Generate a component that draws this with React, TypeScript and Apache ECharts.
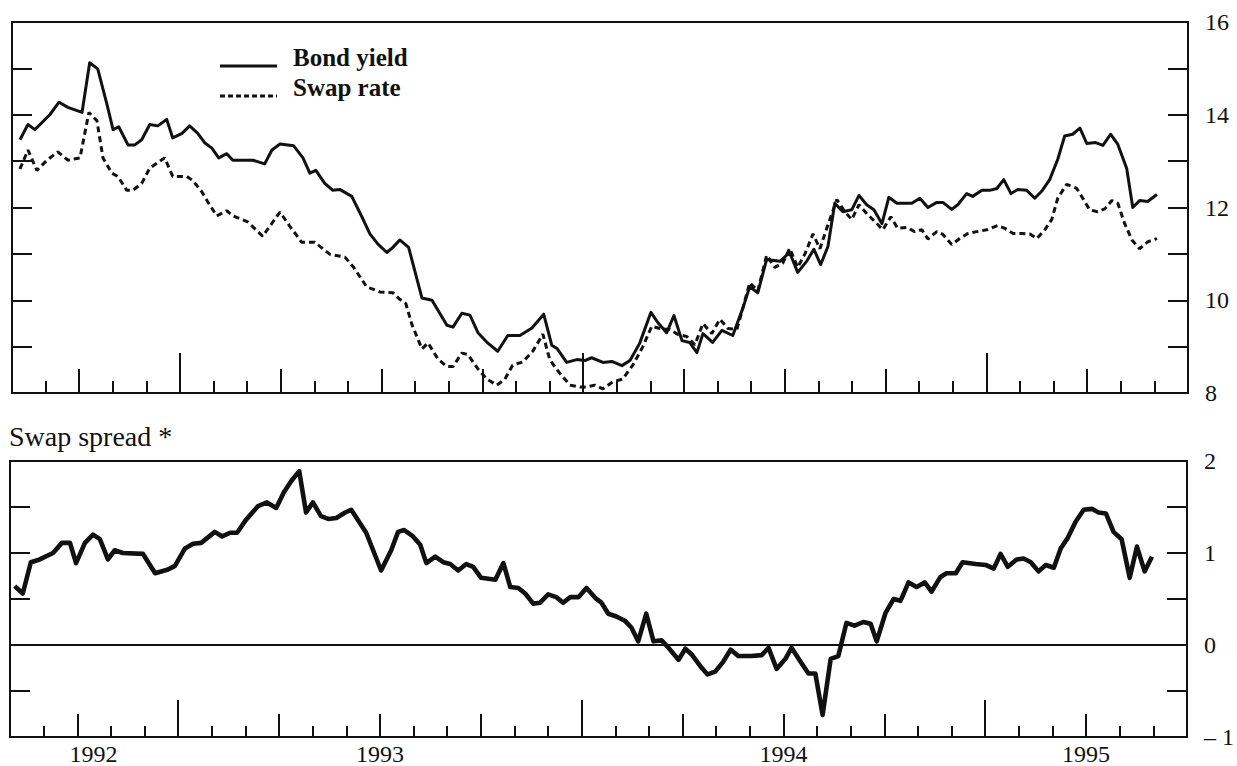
import React, { useEffect, useRef } from "react";
import * as echarts from "echarts";

// ---- data (decimal year, value) ----
const bondYield: [number, number][] = [
  [1992.603, 13.46], [1992.623, 13.79], [1992.64, 13.68], [1992.677, 14.0], [1992.7, 14.27], [1992.722, 14.16],
  [1992.757, 14.05], [1992.776, 15.12], [1992.796, 14.99], [1992.819, 14.22], [1992.834, 13.68], [1992.848, 13.74],
  [1992.871, 13.35], [1992.888, 13.35], [1992.905, 13.46], [1992.925, 13.79], [1992.945, 13.76], [1992.967, 13.9],
  [1992.982, 13.5], [1993.005, 13.6], [1993.024, 13.76], [1993.044, 13.6], [1993.062, 13.39], [1993.079, 13.28],
  [1993.096, 13.07], [1993.116, 13.16], [1993.131, 13.02], [1993.181, 13.02], [1993.21, 12.94], [1993.228, 13.24],
  [1993.248, 13.37], [1993.282, 13.33], [1993.305, 13.07], [1993.322, 12.74], [1993.337, 12.8], [1993.359, 12.52],
  [1993.379, 12.37], [1993.396, 12.39], [1993.426, 12.24], [1993.451, 11.8], [1993.471, 11.43], [1993.491, 11.21],
  [1993.513, 11.03], [1993.528, 11.14], [1993.545, 11.3], [1993.567, 11.14], [1993.6, 10.05], [1993.625, 10.0],
  [1993.662, 9.46], [1993.677, 9.42], [1993.699, 9.72], [1993.719, 9.68], [1993.739, 9.3], [1993.763, 9.08],
  [1993.788, 8.9], [1993.813, 9.24], [1993.843, 9.24], [1993.873, 9.4], [1993.902, 9.7], [1993.922, 9.03],
  [1993.935, 8.96], [1993.959, 8.66], [1993.984, 8.72], [1994.004, 8.7], [1994.021, 8.76], [1994.049, 8.66],
  [1994.071, 8.68], [1994.096, 8.59], [1994.116, 8.7], [1994.14, 9.07], [1994.168, 9.74], [1994.185, 9.52],
  [1994.207, 9.3], [1994.225, 9.67], [1994.245, 9.13], [1994.264, 9.09], [1994.282, 8.87], [1994.297, 9.28],
  [1994.321, 9.09], [1994.344, 9.35], [1994.371, 9.24], [1994.396, 9.83], [1994.413, 10.29], [1994.433, 10.16],
  [1994.455, 10.88], [1994.488, 10.84], [1994.512, 11.03], [1994.532, 10.6], [1994.555, 10.85], [1994.572, 11.1],
  [1994.589, 10.77], [1994.607, 11.16], [1994.624, 12.09], [1994.644, 11.91], [1994.666, 11.95], [1994.684, 12.26],
  [1994.703, 12.06], [1994.721, 11.95], [1994.741, 11.65], [1994.758, 12.22], [1994.778, 12.09], [1994.815, 12.09],
  [1994.835, 12.2], [1994.855, 12.0], [1994.877, 12.11], [1994.892, 12.11], [1994.914, 11.96], [1994.929, 12.06],
  [1994.951, 12.3], [1994.966, 12.24], [1994.989, 12.37], [1995.008, 12.37], [1995.026, 12.41], [1995.043, 12.6],
  [1995.061, 12.3], [1995.078, 12.39], [1995.1, 12.37], [1995.12, 12.2], [1995.137, 12.35], [1995.157, 12.6],
  [1995.177, 13.04], [1995.194, 13.54], [1995.214, 13.58], [1995.232, 13.71], [1995.249, 13.38], [1995.271, 13.4],
  [1995.289, 13.34], [1995.308, 13.58], [1995.326, 13.36], [1995.348, 12.84], [1995.363, 12.0], [1995.38, 12.15],
  [1995.4, 12.13], [1995.423, 12.28],
];

const swapRate: [number, number][] = [
  [1992.603, 12.83], [1992.623, 13.24], [1992.645, 12.8], [1992.67, 13.02], [1992.697, 13.2], [1992.722, 13.02],
  [1992.752, 13.07], [1992.774, 14.05], [1992.794, 13.87], [1992.809, 13.07], [1992.831, 12.74], [1992.846, 12.67],
  [1992.868, 12.37], [1992.883, 12.37], [1992.905, 12.52], [1992.925, 12.85], [1992.962, 13.07], [1992.982, 12.67],
  [1993.017, 12.67], [1993.032, 12.58], [1993.054, 12.34], [1993.069, 12.12], [1993.091, 11.82], [1993.116, 11.93],
  [1993.131, 11.82], [1993.168, 11.69], [1993.205, 11.38], [1993.223, 11.6], [1993.248, 11.9], [1993.272, 11.6],
  [1993.302, 11.25], [1993.334, 11.25], [1993.372, 10.99], [1993.409, 10.93], [1993.429, 10.73], [1993.463, 10.29],
  [1993.496, 10.18], [1993.528, 10.16], [1993.545, 10.02], [1993.56, 9.93], [1993.575, 9.48], [1993.6, 8.95],
  [1993.615, 9.08], [1993.64, 8.73], [1993.662, 8.57], [1993.677, 8.57], [1993.699, 8.86], [1993.714, 8.83],
  [1993.739, 8.52], [1993.761, 8.3], [1993.786, 8.17], [1993.806, 8.3], [1993.825, 8.6], [1993.85, 8.67],
  [1993.875, 8.9], [1993.9, 9.27], [1993.917, 8.72], [1993.935, 8.5], [1993.967, 8.17], [1993.992, 8.13],
  [1994.009, 8.13], [1994.029, 8.17], [1994.049, 8.09], [1994.073, 8.24], [1994.098, 8.3], [1994.123, 8.6],
  [1994.148, 9.0], [1994.17, 9.44], [1994.19, 9.39], [1994.215, 9.37], [1994.235, 9.26], [1994.257, 9.22],
  [1994.277, 9.04], [1994.297, 9.5], [1994.319, 9.28], [1994.339, 9.59], [1994.359, 9.39], [1994.381, 9.37],
  [1994.396, 9.83], [1994.413, 10.38], [1994.433, 10.2], [1994.455, 10.97], [1994.475, 10.71], [1994.495, 10.8],
  [1994.512, 11.12], [1994.532, 10.71], [1994.55, 11.0], [1994.57, 11.43], [1994.587, 11.11], [1994.604, 11.55],
  [1994.629, 12.17], [1994.649, 11.91], [1994.666, 11.74], [1994.684, 12.06], [1994.703, 11.87], [1994.723, 11.7],
  [1994.743, 11.52], [1994.763, 11.8], [1994.78, 11.55], [1994.803, 11.57], [1994.822, 11.48], [1994.84, 11.52],
  [1994.855, 11.32], [1994.877, 11.48], [1994.892, 11.42], [1994.914, 11.2], [1994.934, 11.33], [1994.954, 11.44],
  [1994.976, 11.48], [1995.001, 11.52], [1995.028, 11.61], [1995.046, 11.55], [1995.066, 11.44], [1995.088, 11.44],
  [1995.108, 11.43], [1995.125, 11.33], [1995.145, 11.52], [1995.162, 11.74], [1995.177, 12.2], [1995.199, 12.5],
  [1995.224, 12.41], [1995.239, 12.2], [1995.256, 11.95], [1995.276, 11.91], [1995.294, 11.97], [1995.311, 12.15],
  [1995.326, 12.09], [1995.343, 11.65], [1995.361, 11.3], [1995.38, 11.11], [1995.4, 11.26], [1995.423, 11.33],
];

const swapSpread: [number, number][] = [
  [1992.595, 0.64], [1992.615, 0.56], [1992.635, 0.9], [1992.657, 0.93], [1992.69, 1.0], [1992.712, 1.11],
  [1992.732, 1.11], [1992.747, 0.89], [1992.769, 1.11], [1992.789, 1.2], [1992.806, 1.15], [1992.826, 0.93],
  [1992.843, 1.03], [1992.863, 1.0], [1992.913, 0.99], [1992.943, 0.78], [1992.975, 0.82], [1992.992, 0.86],
  [1993.017, 1.05], [1993.037, 1.1], [1993.057, 1.11], [1993.091, 1.23], [1993.109, 1.18], [1993.129, 1.22],
  [1993.146, 1.22], [1993.168, 1.36], [1993.198, 1.51], [1993.22, 1.55], [1993.243, 1.49], [1993.262, 1.66],
  [1993.28, 1.78], [1993.3, 1.89], [1993.317, 1.44], [1993.334, 1.55], [1993.354, 1.4], [1993.372, 1.37],
  [1993.392, 1.38], [1993.414, 1.44], [1993.429, 1.47], [1993.466, 1.22], [1993.503, 0.81], [1993.528, 1.03],
  [1993.545, 1.23], [1993.56, 1.25], [1993.582, 1.18], [1993.6, 1.09], [1993.615, 0.89], [1993.637, 0.96],
  [1993.657, 0.9], [1993.674, 0.88], [1993.694, 0.81], [1993.714, 0.88], [1993.731, 0.85], [1993.751, 0.73],
  [1993.786, 0.71], [1993.806, 0.89], [1993.823, 0.63], [1993.843, 0.62], [1993.86, 0.56], [1993.88, 0.45],
  [1993.897, 0.46], [1993.917, 0.55], [1993.937, 0.52], [1993.954, 0.46], [1993.972, 0.52], [1993.992, 0.52],
  [1994.012, 0.62], [1994.034, 0.51], [1994.049, 0.46], [1994.066, 0.34], [1994.086, 0.31], [1994.108, 0.26],
  [1994.123, 0.19], [1994.14, 0.04], [1994.16, 0.34], [1994.178, 0.04], [1994.198, 0.05], [1994.215, -0.03],
  [1994.24, -0.16], [1994.257, -0.04], [1994.272, -0.1], [1994.294, -0.23], [1994.312, -0.32], [1994.331, -0.29],
  [1994.351, -0.18], [1994.369, -0.05], [1994.388, -0.12], [1994.421, -0.12], [1994.446, -0.11], [1994.463, -0.03],
  [1994.483, -0.26], [1994.505, -0.15], [1994.52, -0.03], [1994.542, -0.18], [1994.562, -0.31], [1994.579, -0.31],
  [1994.597, -0.76], [1994.617, -0.15], [1994.636, -0.12], [1994.656, 0.24], [1994.676, 0.21], [1994.698, 0.25],
  [1994.716, 0.23], [1994.731, 0.04], [1994.753, 0.35], [1994.773, 0.5], [1994.79, 0.48], [1994.81, 0.68],
  [1994.83, 0.63], [1994.85, 0.68], [1994.867, 0.58], [1994.889, 0.74], [1994.904, 0.78], [1994.927, 0.78],
  [1994.944, 0.9], [1994.976, 0.88], [1995.001, 0.87], [1995.021, 0.83], [1995.038, 0.99], [1995.056, 0.85],
  [1995.078, 0.93], [1995.095, 0.94], [1995.113, 0.9], [1995.132, 0.8], [1995.15, 0.87], [1995.17, 0.84],
  [1995.187, 1.05], [1995.204, 1.16], [1995.224, 1.34], [1995.244, 1.47], [1995.264, 1.48], [1995.281, 1.44],
  [1995.299, 1.43], [1995.318, 1.23], [1995.338, 1.15], [1995.358, 0.73], [1995.376, 1.07], [1995.395, 0.8],
  [1995.413, 0.96],
];

// ---- axis labels / ticks ----
const yearLabels = ["1992", "1993", "1994", "1995"];
const yearLabelAt = [1992.79, 1993.5, 1994.5, 1995.25];
const yearStarts = [1993, 1994, 1995];
const X_MIN = 1992 + 7 / 12;
const X_MAX = 1995.5;

const INK = "#111111";
const FONT = '"Liberation Serif", "Times New Roman", serif';

const monthTicks: number[] = [];
const quarterTicks: number[] = [];
for (let k = 8; k <= 41; k++) {
  monthTicks.push(1992 + k / 12);
  if (k % 3 === 0) quarterTicks.push(1992 + k / 12);
}

function makeXAxes(gridIndex: number, lens: number[], withLabels: boolean) {
  const tickSets = [monthTicks, quarterTicks, yearStarts];
  return tickSets.map((ticks, i) => ({
    type: "value",
    gridIndex,
    min: X_MIN,
    max: X_MAX,
    position: "bottom",
    axisLine: { show: false, onZero: false },
    splitLine: { show: false },
    axisTick: {
      show: true,
      inside: true,
      length: lens[i],
      customValues: ticks,
      lineStyle: { color: INK, width: 2 },
    },
    axisLabel:
      withLabels && i === 0
        ? {
            show: true,
            customValues: yearLabelAt,
            formatter: (v: number) => yearLabels[yearLabelAt.findIndex((p) => Math.abs(p - v) < 1e-6)] ?? String(Math.floor(v)),
            color: INK,
            fontFamily: FONT,
            fontSize: 24,
            margin: 5,
          }
        : { show: false },
  }));
}

function makeYAxes(gridIndex: number, min: number, max: number, interval: number, fmt: (v: number) => string) {
  const common = {
    type: "value",
    gridIndex,
    min,
    max,
    interval,
    axisLine: { show: false },
    splitLine: { show: false },
    axisTick: { show: true, inside: true, length: 20, lineStyle: { color: INK, width: 2 } },
  };
  return [
    {
      ...common,
      position: "right",
      axisLabel: { show: true, formatter: fmt, color: INK, fontFamily: FONT, fontSize: 24, margin: 17 },
    },
    { ...common, position: "left", axisLabel: { show: false } },
  ];
}

export default function App() {
  const ref = useRef<HTMLDivElement>(null);
  useEffect(() => {
    if (!ref.current) return;
    const chart = echarts.init(ref.current, null, { renderer: "svg" });
    const option: any = {
      animation: false,
      backgroundColor: "#ffffff",
      grid: [
        { left: 12, right: 49, top: 22, height: 371, show: true, borderColor: INK, borderWidth: 2, outerBoundsMode: "none" },
        { left: 10, right: 50, top: 461, height: 276, show: true, borderColor: INK, borderWidth: 2, outerBoundsMode: "none" },
      ],
      xAxis: [...makeXAxes(0, [12, 24, 40], false), ...makeXAxes(1, [11, 23, 37], true)],
      yAxis: [
        ...makeYAxes(0, 8, 16, 1, (v: number) => (v % 2 === 0 ? String(v) : "")),
        ...makeYAxes(1, -1, 2, 0.5, (v: number) => (Number.isInteger(v) ? (v < 0 ? "– " + Math.abs(v) : String(v)) : "")),
      ],
      series: [
        {
          name: "Bond yield",
          type: "line",
          xAxisIndex: 0,
          yAxisIndex: 0,
          data: bondYield,
          symbol: "none",
          lineStyle: { color: INK, width: 3, join: "round" },
        },
        {
          name: "Swap rate",
          type: "line",
          xAxisIndex: 0,
          yAxisIndex: 0,
          data: swapRate,
          symbol: "none",
          lineStyle: { color: INK, width: 3, type: [6, 4] },
        },
        {
          name: "Swap spread",
          type: "line",
          xAxisIndex: 3,
          yAxisIndex: 2,
          data: swapSpread,
          symbol: "none",
          lineStyle: { color: INK, width: 4.6, join: "round" },
          markLine: {
            silent: true,
            symbol: "none",
            label: { show: false },
            lineStyle: { color: INK, width: 2, type: "solid" },
            data: [{ yAxis: 0 }],
          },
        },
      ],
      graphic: [
        { type: "line", shape: { x1: 220, y1: 66, x2: 277, y2: 66 }, style: { stroke: INK, lineWidth: 3 } },
        { type: "text", x: 293, y: 57, style: { text: "Bond yield", font: `bold 25px ${FONT}`, fill: INK, textVerticalAlign: "middle" } },
        { type: "line", shape: { x1: 220, y1: 96, x2: 277, y2: 96 }, style: { stroke: INK, lineWidth: 3, lineDash: [5, 3] } },
        { type: "text", x: 293, y: 87, style: { text: "Swap rate", font: `bold 25px ${FONT}`, fill: INK, textVerticalAlign: "middle" } },
        { type: "text", x: 9, y: 436, style: { text: "Swap spread *", font: `28px ${FONT}`, fill: INK, textVerticalAlign: "middle" } },
      ],
    };
    chart.setOption(option);
    return () => chart.dispose();
  }, []);
  return <div ref={ref} style={{ position: "fixed", left: 0, top: 0, width: 1237, height: 766 }} />;
}
